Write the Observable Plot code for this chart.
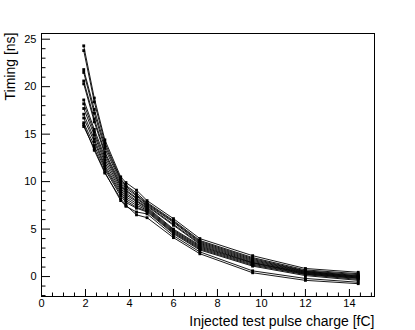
<!DOCTYPE html>
<html><head><meta charset="utf-8">
<script src="https://cdn.jsdelivr.net/npm/d3@7"></script>
<script src="https://cdn.jsdelivr.net/npm/@observablehq/plot@0.6"></script>
<style>body{margin:0;background:#fff;} svg{display:block;}</style>
</head><body><div id="chart"></div>
<script>
// Injected charge (fC) at each measurement point
const charges = [1.92, 2.4, 2.88, 3.6, 3.84, 4.32, 4.8, 6.0, 7.2, 9.6, 12.0, 14.4];
// Timing (ns) per channel
const ch01 = [24.3, 18.8, 14.4, 10.5, 9.9, 9.1, 8.0, 6.1, 4.0, 2.2, 0.85, 0.45];
const ch02 = [23.8, 18.4, 14.1, 10.3, 9.6, 8.8, 7.8, 5.9, 3.8, 2.0, 0.7, 0.3];
const ch03 = [21.8, 17.6, 13.8, 10.2, 9.5, 8.6, 7.7, 5.8, 3.7, 1.9, 0.6, 0.2];
const ch04 = [21.5, 17.2, 13.5, 10.0, 9.3, 8.5, 7.6, 5.7, 3.6, 1.8, 0.55, 0.1];
const ch05 = [20.6, 16.6, 13.1, 9.8, 9.1, 8.3, 7.5, 5.5, 3.5, 1.7, 0.5, 0.05];
const ch06 = [20.3, 16.3, 12.9, 9.6, 9.0, 8.2, 7.4, 5.4, 3.4, 1.6, 0.45, 0.0];
const ch07 = [18.6, 15.5, 12.6, 9.5, 8.8, 8.0, 7.3, 5.0, 3.3, 1.5, 0.4, -0.05];
const ch08 = [18.2, 15.2, 12.3, 9.3, 8.6, 7.9, 7.2, 4.9, 3.2, 1.45, 0.35, -0.1];
const ch09 = [17.7, 14.9, 12.0, 9.1, 8.4, 7.7, 7.1, 4.8, 3.1, 1.4, 0.3, -0.15];
const ch10 = [17.1, 14.5, 11.7, 8.9, 8.2, 7.5, 7.0, 4.7, 3.0, 1.3, 0.25, -0.2];
const ch11 = [16.7, 14.2, 11.5, 8.7, 8.0, 7.3, 6.9, 4.6, 2.9, 1.2, 0.2, -0.3];
const ch12 = [16.2, 13.8, 11.3, 8.5, 7.8, 7.2, 6.8, 4.5, 2.8, 1.1, 0.1, -0.4];
const ch13 = [15.8, 13.5, 11.0, 8.0, 7.4, 6.8, 6.6, 4.3, 2.6, 0.6, -0.2, -0.6];
const ch14 = [16.0, 13.3, 10.9, 8.2, 7.5, 6.5, 6.2, 4.1, 2.4, 0.4, -0.4, -0.75];
const channels = [ch01, ch02, ch03, ch04, ch05, ch06, ch07, ch08, ch09, ch10, ch11, ch12, ch13, ch14];

// Axis ticks
const xMajorTicks = [0, 2, 4, 6, 8, 10, 12, 14];
const xMinorTicks = [0.5, 1, 1.5, 2.5, 3, 3.5, 4.5, 5, 5.5, 6.5, 7, 7.5, 8.5, 9, 9.5, 10.5, 11, 11.5, 12.5, 13, 13.5, 14.5, 15];
const yMajorTicks = [0, 5, 10, 15, 20, 25];
const yMinorTicks = [-2, -1, 1, 2, 3, 4, 6, 7, 8, 9, 11, 12, 13, 14, 16, 17, 18, 19, 21, 22, 23, 24];

const xTitle = "Injected test pulse charge [fC]";
const yTitle = "Timing [ns]";

const data = channels.flatMap((vals, i) => vals.map((t, j) => ({id: i, charge: charges[j], timing: t})));

const blank = () => "";

const chart = Plot.plot({
  width: 415,
  height: 330,
  marginLeft: 41,
  marginRight: 41,
  marginTop: 33,
  marginBottom: 34,
  style: {fontFamily: "'Liberation Sans', Arial, sans-serif", fontSize: "11px", color: "black", background: "white"},
  x: {domain: [0, 15.14]},
  y: {domain: [-2.1, 25.6]},
  marks: [
    Plot.line(data, {x: "charge", y: "timing", z: "id", stroke: "black", strokeWidth: 0.9}),
    Plot.dot(data, {x: "charge", y: "timing", symbol: "square", r: 1.6, fill: "black", stroke: "none"}),
    Plot.axisX(xMajorTicks, {anchor: "bottom", tickSize: 0, tickPadding: 3, fontSize: 11, label: null}),
    Plot.axisX(xMajorTicks, {anchor: "bottom", tickSize: -7, tickFormat: blank, label: null}),
    Plot.axisX(xMinorTicks, {anchor: "bottom", tickSize: -3.5, tickFormat: blank, label: null}),
    Plot.axisY(yMajorTicks, {anchor: "left", tickSize: 0, tickPadding: 5, fontSize: 11, label: null}),
    Plot.axisY(yMajorTicks, {anchor: "left", tickSize: -9, tickFormat: blank, label: null}),
    Plot.axisY(yMinorTicks, {anchor: "left", tickSize: -4.5, tickFormat: blank, label: null}),
    Plot.frame({stroke: "black", strokeWidth: 1}),
    Plot.text([yTitle], {text: d => d, frameAnchor: "top-left", rotate: -90, textAnchor: "end", lineAnchor: "middle", dx: -31, dy: -1, fontSize: 14}),
    Plot.text([xTitle], {text: d => d, frameAnchor: "bottom-right", textAnchor: "end", lineAnchor: "middle", dy: 25, fontSize: 14})
  ]
});
document.getElementById("chart").appendChild(chart);
</script>
</body></html>
